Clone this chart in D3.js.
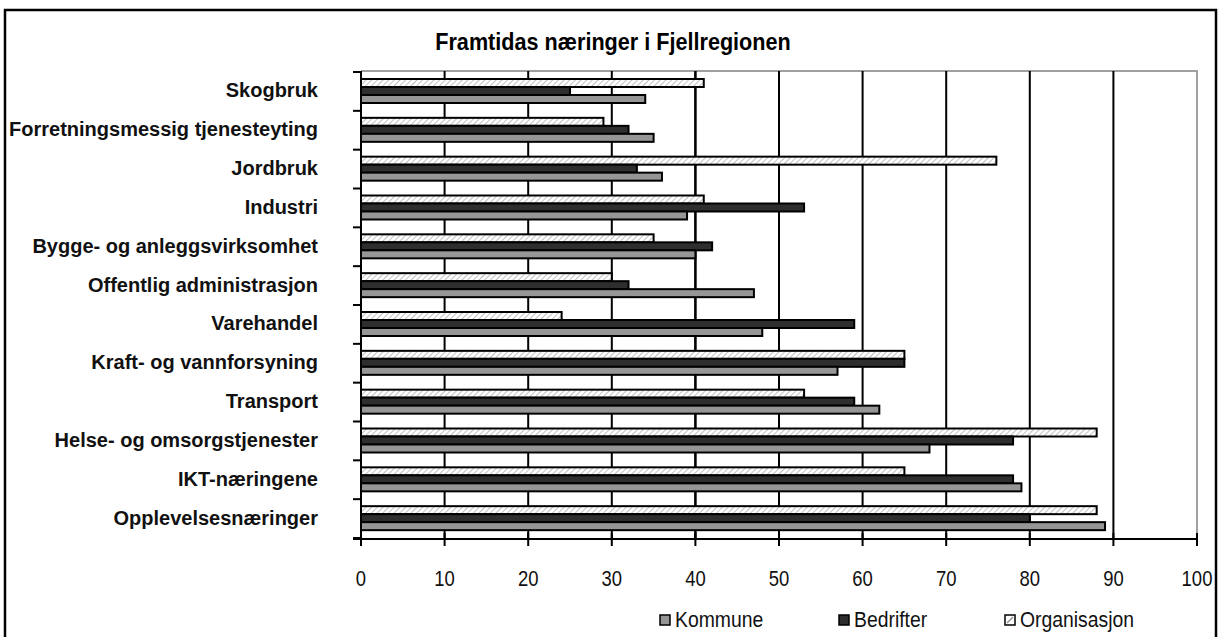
<!DOCTYPE html>
<html>
<head>
<meta charset="utf-8">
<script src="https://cdn.jsdelivr.net/npm/d3@7"></script>
<style>
  html, body { margin: 0; padding: 0; background: #fff; }
  svg { display: block; }
</style>
</head>
<body>
<svg id="chart" width="1223" height="637"></svg>
<script>
const title = "Framtidas næringer i Fjellregionen";
const categories = [
  "Skogbruk",
  "Forretningsmessig tjenesteyting",
  "Jordbruk",
  "Industri",
  "Bygge- og anleggsvirksomhet",
  "Offentlig administrasjon",
  "Varehandel",
  "Kraft- og vannforsyning",
  "Transport",
  "Helse- og omsorgstjenester",
  "IKT-næringene",
  "Opplevelsesnæringer"
];
const seriesNames = ["Organisasjon", "Bedrifter", "Kommune"];
const legendOrder = ["Kommune", "Bedrifter", "Organisasjon"];
const organisasjon = [41, 29, 76, 41, 35, 30, 24, 65, 53, 88, 65, 88];
const bedrifter    = [25, 32, 33, 53, 42, 32, 59, 65, 59, 78, 78, 80];
const kommune      = [34, 35, 36, 39, 40, 47, 48, 57, 62, 68, 79, 89];
const xTicks = [0, 10, 20, 30, 40, 50, 60, 70, 80, 90, 100];

const seriesValues = { "Organisasjon": organisasjon, "Bedrifter": bedrifter, "Kommune": kommune };
const fills = { "Organisasjon": "url(#hatch)", "Bedrifter": "#2e2e2e", "Kommune": "#969696" };

const svg = d3.select("#chart");
const sans = "'Liberation Sans', Arial, sans-serif";

// patterns
const defs = svg.append("defs");
const pat = defs.append("pattern").attr("id", "hatch").attr("patternUnits", "userSpaceOnUse")
  .attr("width", 4).attr("height", 4).attr("patternTransform", "rotate(45)");
pat.append("rect").attr("width", 4).attr("height", 4).attr("fill", "#fff");
pat.append("line").attr("x1", 0).attr("y1", 0).attr("x2", 0).attr("y2", 4)
  .attr("stroke", "#b0b0b0").attr("stroke-width", 1.6);

// outer frame
svg.append("rect").attr("x", 5).attr("y", 10).attr("width", 1211).attr("height", 660)
  .attr("fill", "none").attr("stroke", "#000").attr("stroke-width", 2.5);

const x = d3.scaleLinear().domain([0, 100]).range([361, 1197]);
const y0 = d3.scaleBand().domain(categories).range([72, 538]);
const y1 = d3.scaleBand().domain(seriesNames).range([7, 31]);

// title (condensed look)
svg.append("text").attr("transform", "translate(613,50) scale(0.94,1)").attr("text-anchor", "middle")
  .attr("font-family", sans).attr("font-weight", "bold").attr("font-size", 23)
  .text(title);

// plot border (gray, top and right)
svg.append("path").attr("d", `M${x(0)},71 H${x(100)} V539`)
  .attr("fill", "none").attr("stroke", "#a0a0a0").attr("stroke-width", 2);

// gridlines
svg.append("g").selectAll("line").data(xTicks.filter(d => d > 0 && d < 100)).join("line")
  .attr("x1", d => x(d)).attr("x2", d => x(d)).attr("y1", 71).attr("y2", 539)
  .attr("stroke", "#000").attr("stroke-width", d => d === 40 ? 2.6 : 2);

// bars
const groups = svg.append("g").selectAll("g").data(categories).join("g")
  .attr("transform", d => `translate(0,${y0(d)})`);
groups.selectAll("rect").data((c, i) => seriesNames.map(s => ({ s, v: seriesValues[s][i] }))).join("rect")
  .attr("x", x(0)).attr("y", d => y1(d.s)).attr("width", d => x(d.v) - x(0)).attr("height", y1.bandwidth())
  .attr("fill", d => fills[d.s]).attr("stroke", "#000").attr("stroke-width", 2);

// y axis
const yAxis = svg.append("g").attr("transform", `translate(${x(0)},0)`);
yAxis.append("line").attr("x1", 0).attr("x2", 0).attr("y1", 71).attr("y2", 539)
  .attr("stroke", "#000").attr("stroke-width", 2);
const yb = y0.domain().map(c => y0(c)).concat([y0.range()[1]]);
yAxis.selectAll("line.t").data(yb).join("line").attr("class", "t")
  .attr("x1", -8).attr("x2", 0).attr("y1", d => d).attr("y2", d => d)
  .attr("stroke", "#000").attr("stroke-width", 2);

// category labels
svg.append("g").selectAll("text").data(categories).join("text")
  .attr("x", 318).attr("y", d => y0(d) + y0.bandwidth() / 2 + 6)
  .attr("text-anchor", "end").attr("font-family", sans).attr("font-weight", "bold")
  .attr("font-size", 20).attr("fill", "#111").text(d => d);

// x axis
const xAxisG = svg.append("g").attr("transform", "translate(0,539)");
xAxisG.append("line").attr("x1", x(0) - 8).attr("x2", x(100)).attr("y1", 0).attr("y2", 0)
  .attr("stroke", "#000").attr("stroke-width", 2);
xAxisG.selectAll("line.t").data(xTicks).join("line").attr("class", "t")
  .attr("x1", d => x(d)).attr("x2", d => x(d)).attr("y1", -6).attr("y2", 7)
  .attr("stroke", "#000").attr("stroke-width", 2);
xAxisG.selectAll("text").data(xTicks).join("text")
  .attr("transform", d => `translate(${x(d)},47) scale(0.84,1)`).attr("text-anchor", "middle")
  .attr("font-family", sans).attr("font-size", 22).attr("fill", "#111").text(d => d);

// legend
const legendX = { "Kommune": 660, "Bedrifter": 839, "Organisasjon": 1005 };
const lg = svg.append("g").selectAll("g").data(legendOrder).join("g")
  .attr("transform", d => `translate(${legendX[d]},615)`);
lg.append("rect").attr("width", 10).attr("height", 10)
  .attr("fill", d => d === "Organisasjon" ? "#fff" : fills[d]).attr("stroke", "#000").attr("stroke-width", 1.5);
lg.filter(d => d === "Organisasjon").append("line").attr("x1", 2).attr("y1", 8).attr("x2", 8).attr("y2", 2)
  .attr("stroke", "#888").attr("stroke-width", 1.2);
lg.append("text").attr("transform", "translate(15,12) scale(0.88,1)").attr("font-family", sans).attr("font-size", 22)
  .attr("fill", "#111").text(d => d);
</script>
</body>
</html>
